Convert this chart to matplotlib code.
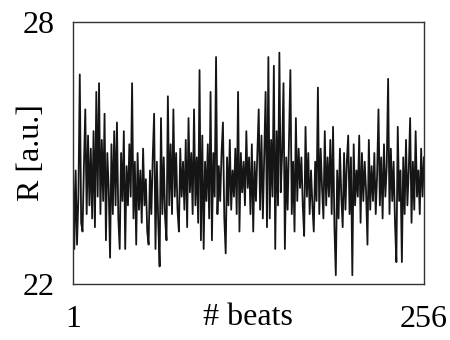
"""
R amplitude over 256 beats.
"""

import numpy as np
from matplotlib import pyplot as plt

# R values, 16 beats per row
r_values = [
    24.9, 22.8, 24.6, 22.9, 24.0, 26.8, 23.4, 23.2, 24.7, 26.0, 23.6, 25.4, 23.8, 25.1, 23.5, 25.5,
    23.3, 26.4, 24.0, 26.6, 23.6, 25.3, 23.9, 25.9, 23.0, 25.0, 24.2, 22.6, 25.2, 23.6, 25.5, 23.8,
    25.7, 23.5, 22.8, 25.0, 23.9, 25.5, 22.8, 24.7, 23.8, 25.2, 24.0, 26.6, 23.5, 24.8, 22.9, 25.0,
    23.7, 24.6, 23.4, 25.1, 23.8, 24.4, 23.2, 22.9, 24.6, 23.6, 24.9, 25.9, 22.8, 24.8, 23.4, 22.4,
    25.8, 23.6, 24.9, 23.5, 23.0, 26.3, 23.8, 25.2, 23.6, 26.0, 24.0, 25.0, 23.7, 23.2, 25.1, 24.0,
    24.8, 23.7, 25.3, 23.3, 25.8, 24.1, 25.0, 23.6, 26.0, 23.8, 24.9, 23.4, 26.9, 23.0, 25.4, 22.8,
    24.8, 23.9, 25.2, 23.5, 26.4, 23.0, 25.0, 24.0, 27.2, 23.6, 24.7, 23.9, 25.0, 25.7, 23.5, 22.7,
    24.9, 23.8, 25.3, 23.7, 24.6, 24.0, 25.1, 23.6, 26.4, 23.2, 25.0, 24.1, 24.8, 23.8, 25.5, 24.2,
    24.9, 23.6, 25.2, 23.2, 24.8, 23.9, 25.0, 26.0, 23.7, 25.4, 23.5, 24.9, 26.4, 23.3, 27.2, 23.5,
    25.3, 24.0, 27.0, 22.8, 25.5, 23.8, 27.3, 24.1, 25.0, 26.6, 22.8, 24.9, 23.7, 25.3, 26.9, 23.6,
    24.8, 23.2, 25.8, 23.9, 25.1, 24.2, 24.9, 23.8, 23.1, 25.6, 24.0, 25.0, 23.6, 24.6, 23.8, 23.2,
    24.8, 23.9, 26.5, 23.6, 25.1, 24.2, 23.5, 25.5, 23.8, 24.9, 24.0, 25.3, 23.6, 25.6, 23.3, 22.2,
    24.6, 23.5, 25.1, 24.0, 23.3, 25.0, 23.7, 24.8, 25.4, 23.6, 24.9, 22.2, 25.2, 23.8, 24.6, 24.0,
    25.4, 23.4, 25.0, 23.9, 24.8, 24.1, 22.9, 25.3, 23.7, 24.7, 23.9, 25.0, 23.6, 24.5, 26.0, 23.8,
    24.9, 23.5, 25.2, 24.0, 24.7, 26.7, 23.6, 25.1, 23.9, 24.8, 23.4, 22.5, 25.6, 23.9, 24.6, 22.5,
    24.9, 23.6, 25.3, 23.8, 24.6, 25.8, 23.4, 24.8, 23.7, 25.5, 24.0, 24.6, 23.6, 25.1, 24.0, 24.9,
]
beats = np.arange(1, len(r_values) + 1)
x_ticks = [1, 256]
y_ticks = [22, 28]

plt.rcParams['font.family'] = ['Liberation Serif', 'DejaVu Serif']

fig = plt.figure(figsize=(4.5, 3.4), dpi=100)
ax = fig.add_axes([0.162, 0.165, 0.78, 0.77])
ax.plot(beats, r_values, '-', color='#151515', lw=1.3)

ax.set_xlim(1, 256)
ax.set_ylim(22, 28)
ax.set_xticks(x_ticks)
ax.set_yticks(y_ticks)
ax.tick_params(length=0, labelsize=23)
ax.tick_params(axis='x', pad=15)
ax.tick_params(axis='y', pad=13)
for s in ax.spines.values():
    s.set_color('#333333')
    s.set_linewidth(1.0)

ax.set_xlabel('# beats', fontsize=23, labelpad=-22)
ax.set_ylabel('R [a.u.]', fontsize=23, labelpad=-17)

plt.savefig('out.png', dpi=100)
